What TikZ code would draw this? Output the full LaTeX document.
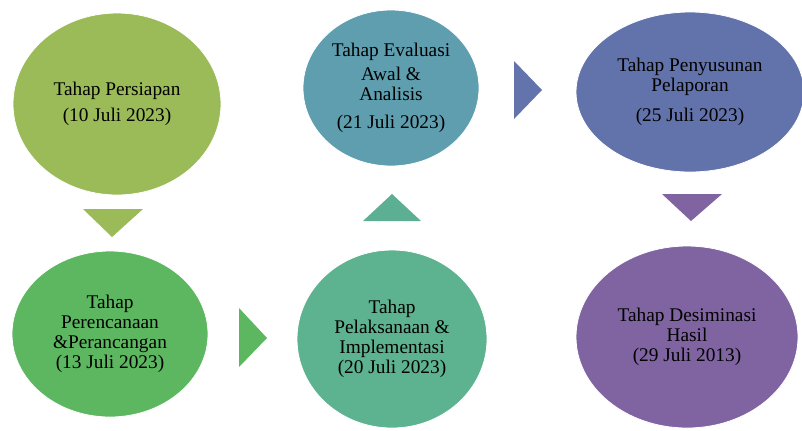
\documentclass[tikz,border=0pt]{standalone}
\usepackage{fontspec}
\setmainfont{Liberation Serif}

\definecolor{olivestage}{HTML}{9BBB59}
\definecolor{greenstage}{HTML}{5DB761}
\definecolor{tealstage}{HTML}{5DB28F}
\definecolor{cyanstage}{HTML}{5F9EAF}
\definecolor{bluestage}{HTML}{6272AB}
\definecolor{purplestage}{HTML}{8064A2}

\tikzset{
  stage/.style={ellipse, draw=white, line width=0.6pt, inner sep=0pt, align=center,
    font=\fontsize{14.5}{15}\selectfont},
}

\usetikzlibrary{shapes.geometric}

\begin{document}
\begin{tikzpicture}[x=0.75pt, y=-0.75pt]

    \useasboundingbox (0,0) rectangle (802,430);

    %% Stages

    % Top row
    \node[stage, fill=olivestage, minimum width=156pt, minimum height=136.5pt] (persiapan) at (117,104)
        {Tahap Persiapan\\[5pt](10 Juli 2023)};
    \node[stage, fill=cyanstage, minimum width=132pt, minimum height=117pt] (evaluasi) at (391,88)
        {Tahap Evaluasi\\[3pt]Awal \&\\Analisis\\[6pt](21 Juli 2023)};
    \node[stage, fill=bluestage, minimum width=171pt, minimum height=120pt] (pelaporan) at (690,92)
        {Tahap Penyusunan\\Pelaporan\\[7.5pt](25 Juli 2023)};

    % Bottom row
    \node[stage, fill=greenstage, minimum width=147pt, minimum height=124.5pt] (perencanaan) at (110,334)
        {Tahap\\Perencanaan\\\&Perancangan\\(13 Juli 2023)};
    \node[stage, fill=tealstage, minimum width=142.5pt, minimum height=133.5pt] (pelaksanaan) at (392,339)
        {Tahap\\Pelaksanaan \&\\Implementasi\\(20 Juli 2023)};
    \node[stage, fill=purplestage, minimum width=166.5pt, minimum height=136.5pt] (desiminasi) at (687,337)
        {Tahap Desiminasi\\Hasil\\(29 Juli 2013)};

    %% Arrows

    % Down
    \fill[olivestage] (83,209) -- (143,209) -- (112,237) -- cycle;
    \fill[purplestage] (662,194) -- (722,194) -- (691,221) -- cycle;

    % Right
    \fill[greenstage] (239,308) -- (267,338) -- (239,367) -- cycle;
    \fill[bluestage!95!cyanstage] (514,61) -- (542,90) -- (514,119) -- cycle;

    % Up
    \fill[tealstage!85!cyanstage] (363,221) -- (392,194) -- (421,221) -- cycle;

\end{tikzpicture}
\end{document}
